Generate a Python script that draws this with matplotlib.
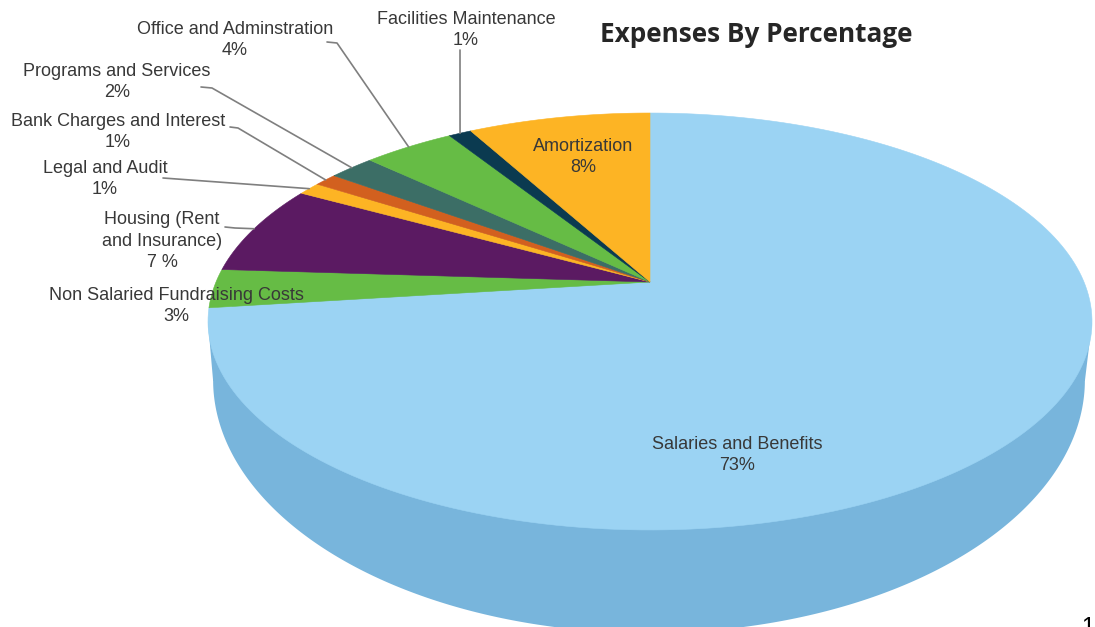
import numpy as np
import matplotlib
matplotlib.use('Agg')
import matplotlib.pyplot as plt

names = ['Salaries and Benefits', 'Non Salaried Fundraising Costs', 'Housing (Rent\nand Insurance)',
         'Legal and Audit', 'Bank Charges and Interest', 'Programs and Services',
         'Office and Adminstration', 'Facilities Maintenance', 'Amortization']
percents = [73, 3, 7, 1, 1, 2, 4, 1, 8]
percent_labels = ['73%', '3%', '7 %', '1%', '1%', '2%', '4%', '1%', '8%']
colors = ['#9bd3f3', '#66bc45', '#5b1a62', '#fdb424', '#d2601f', '#3c6e66', '#66bc45', '#0b3a50', '#fdb424']
side_color = '#78b5dc'
label_pos = [(737, 455), (176, 306), (162, 241), (105, 179), (118, 132), (117, 82), (235, 40), (466, 30), (583, 157)]
# where each leader line leaves its label (None = no leader)
leader_start = [None, None, [(225, 227), (235, 228)], [(163, 178)], [(230, 127), (238, 128)],
                [(201, 87), (212, 88)], [(327, 42), (337, 43)], [(460, 50)], None]


def project(t, cx, cy, a, b, k=0.1894, r=1.0):
    # circle seen in perspective, t is clockwise from 12 o'clock
    x = r * np.sin(t)
    y = -r * np.cos(t)
    d = 1 - k * y
    return cx + a * x / d, cy + b * y / d


fig = plt.figure(figsize=(10.95, 6.27), dpi=100)
ax = fig.add_axes([0, 0, 1, 1])
ax.set_xlim(0, 1095)
ax.set_ylim(627, 0)
ax.axis('off')

top = dict(cx=650, cy=282, a=434, b=201)
bottom = dict(cx=649, cy=332, a=428, b=244)

# side of the disc: lower rim plus the hull up to the top rim
tt = np.linspace(0, 2 * np.pi, 720)
bx, by = project(tt, **bottom)
ax.fill(bx, by, color=side_color, lw=0, zorder=1)
tx, ty = project(tt, **top)
ax.fill([tx.min(), tx.max(), bx[bx.argmax()], bx[bx.argmin()]],
        [ty[tx.argmin()], ty[tx.argmax()], by[bx.argmax()], by[bx.argmin()]],
        color=side_color, lw=0, zorder=1)

# top face slices, clockwise from 12 o'clock
edges = np.cumsum([0] + percents) / sum(percents) * 2 * np.pi
for i in range(len(percents)):
    t = np.linspace(edges[i], edges[i + 1], 200)
    px, py = project(t, **top)
    ax.fill(np.r_[top['cx'], px], np.r_[top['cy'], py], color=colors[i], lw=0.4, ec=colors[i], zorder=2)

# leader lines end on the rim at the middle of their slice
for i in range(len(percents)):
    if leader_start[i] is None:
        continue
    mid = (edges[i] + edges[i + 1]) / 2
    ex, ey = project(mid, **top)
    xs = [p[0] for p in leader_start[i]] + [ex]
    ys = [p[1] for p in leader_start[i]] + [ey]
    ax.plot(xs, ys, color='#7f7f7f', lw=1.2, zorder=3, solid_capstyle='round')

for i in range(len(names)):
    ax.text(label_pos[i][0], label_pos[i][1], names[i] + '\n' + percent_labels[i],
            family='Liberation Sans', fontsize=13, color='#383838',
            ha='center', va='center', linespacing=1.35, zorder=4)

ax.text(756, 34, 'Expenses By Percentage', family='Open Sans', fontweight='bold',
        fontsize=18.8, color='#262626', ha='center', va='center', zorder=4)
ax.text(1088, 628, '1', family='Liberation Sans', fontsize=17, color='black', ha='center', va='center', zorder=4)

fig.savefig('out.png', dpi=100)
